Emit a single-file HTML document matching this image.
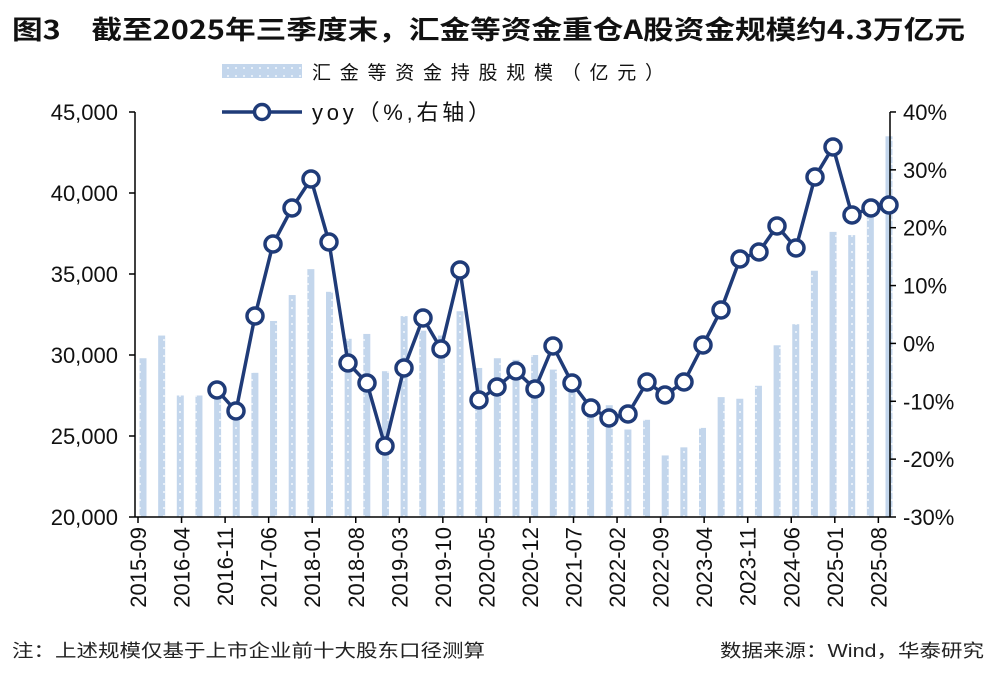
<!DOCTYPE html>
<html><head><meta charset="utf-8"><style>
body{margin:0;background:#fff;width:1000px;height:675px;overflow:hidden}
text{font-family:"Liberation Sans","Noto Sans CJK SC",sans-serif}
</style></head><body>
<svg id="s" width="1000" height="675" xmlns="http://www.w3.org/2000/svg">
<defs><pattern id="dp" width="8" height="8" patternUnits="userSpaceOnUse"><rect width="8" height="8" fill="#c3d6ec"/><rect x="3" y="3" width="2" height="2" fill="#e8f0f9"/></pattern></defs>
<text x="12" y="39" font-size="26" font-weight="bold" fill="#111" textLength="953" lengthAdjust="spacingAndGlyphs" style='font-family:"Noto Sans CJK SC",sans-serif'>图3　截至2025年三季度末，汇金等资金重仓A股资金规模约4.3万亿元</text>
<rect x="222" y="64" width="80" height="14" fill="url(#dp)"/>
<text x="312" y="79" font-size="19" fill="#111" textLength="352" lengthAdjust="spacing">汇金等资金持股规模（亿元）</text>
<line x1="222" y1="112" x2="302" y2="112" stroke="#1f3b78" stroke-width="3.5"/>
<circle cx="262" cy="112" r="7.5" fill="#fff" stroke="#1f3b78" stroke-width="3.5"/>
<text x="312" y="120" font-size="22" fill="#111" textLength="178" lengthAdjust="spacing">yoy（%,右轴）</text>
<g id="g"></g>
<text x="12" y="657" font-size="18" fill="#222" textLength="473" lengthAdjust="spacingAndGlyphs">注：上述规模仅基于上市企业前十大股东口径测算</text>
<text x="720" y="657" font-size="18" fill="#222" textLength="264" lengthAdjust="spacingAndGlyphs">数据来源：Wind，华泰研究</text>
</svg>
<script>
const g=document.getElementById('g');let h='';
const bars=[29800,31200,27500,27500,28000,26900,28900,32100,33700,35300,33900,31000,31300,29000,32400,31500,31200,32700,29200,29800,29700,30000,29100,28400,27200,26900,25400,26000,23800,24300,25500,27400,27300,28100,30600,31900,35200,37600,37400,39000,43500];
const Y=v=>517-(v-20000)*0.0162;
bars.forEach((v,i)=>{const x=143+i*18.65;h+=`<rect x="${x-3.5}" y="${Y(v)}" width="7" height="${517-Y(v)}" fill="url(#dp)"/>`;});
h+=`<line x1="135" y1="112" x2="135" y2="517" stroke="#000" stroke-width="1.5"/><line x1="890" y1="112" x2="890" y2="517" stroke="#000" stroke-width="1.5"/><line x1="135" y1="517" x2="890" y2="517" stroke="#000" stroke-width="1.5"/>`;
for(let k=0;k<6;k++){const y=517-k*81;h+=`<line x1="129" y1="${y}" x2="135" y2="${y}" stroke="#000" stroke-width="1.5"/><text x="118" y="${y+8}" font-size="22" text-anchor="end" fill="#111">${(20000+k*5000).toLocaleString('en-US')}</text>`;}
for(let k=0;k<8;k++){const y=517-k*57.86;h+=`<line x1="890" y1="${y}" x2="896" y2="${y}" stroke="#000" stroke-width="1.5"/><text x="903" y="${y+8}" font-size="22" fill="#111">${-30+k*10}%</text>`;}
const L=["2015-09","2016-04","2016-11","2017-06","2018-01","2018-08","2019-03","2019-10","2020-05","2020-12","2021-07","2022-02","2022-09","2023-04","2023-11","2024-06","2025-01","2025-08"];
L.forEach((l,k)=>{const x=138+k*43.55;h+=`<line x1="${x}" y1="517" x2="${x}" y2="523" stroke="#000" stroke-width="1.5"/><text transform="translate(${x+8},527) rotate(-90)" font-size="22" text-anchor="end" fill="#111">${l}</text>`;});
const p=[[217,390],[236,411],[255,316],[273,244],[292,208],[311,179],[329,242],[348,363],[367,383],[385,446],[404,368],[423,318],[441,349],[460,270],[479,400],[497,387],[516,371],[535,389],[553,346],[572,383],[591,408],[609,418],[628,414],[647,382],[665,395],[684,382],[703,345],[721,310],[740,259],[759,252],[777,226],[796,248],[815,177],[833,147],[852,215],[871,208],[889,205]];
h+=`<polyline points="${p.map(q=>q.join(',')).join(' ')}" fill="none" stroke="#1f3b78" stroke-width="3.5"/>`;
p.forEach(q=>h+=`<circle cx="${q[0]}" cy="${q[1]}" r="8" fill="#fff" stroke="#1f3b78" stroke-width="3.5"/>`);
g.innerHTML=h;
</script>
</body></html>
